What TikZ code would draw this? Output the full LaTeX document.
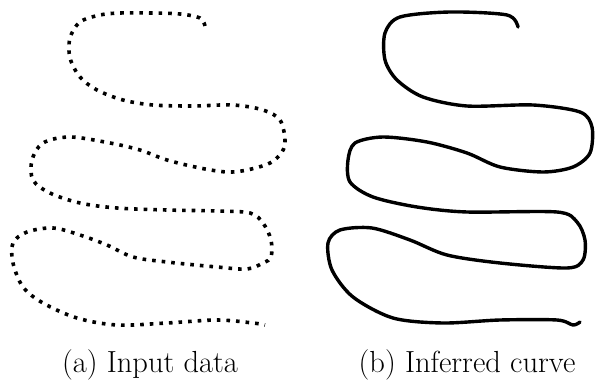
\documentclass[tikz,border=0pt]{standalone}
\usepackage{tikz}
\usetikzlibrary{calc}
\tikzset{
  dataDots/.style={
    line width=3.6pt,
    line cap=butt,
    dash pattern=on 3.6pt off 6pt
  },
  fitCurve/.style={
    line width=3.4pt,
    line cap=round,
    line join=round
  },
  panelCaption/.style={
    font=\fontsize{30.5}{36}\selectfont,
    anchor=base,
    inner sep=0pt
  }
}

\begin{document}
\begin{tikzpicture}[x=1pt,y=-1pt]
  \useasboundingbox (0,0) rectangle (595,380);

  % (a) sampled input points
  \draw[dataDots] plot[smooth, tension=0.55] coordinates {
    (205,26) (200,18) (180,14) (150,13) (120,13) (100,15) (80,22) (70,38)
    (70,58) (80,77) (97,90) (123,100) (153,105) (193,106) (233,105)
    (263,110) (280,120) (285,140) (282,152) (270,163) (247,170) (227,172)
    (200,168) (167,160) (140,150) (110,143) (70,137) (43,143) (32,160)
    (33,180) (50,193) (80,203) (117,208) (167,210) (217,211) (250,213)
    (263,223) (271,240) (271,257) (263,263) (247,269) (217,267) (167,262)
    (133,257) (107,245) (80,235) (53,228) (27,232) (13,243) (13,263)
    (23,287) (43,303) (77,318) (117,325) (167,323) (217,320) (253,323)
    (265,325)};

  % (b) reconstructed curve
  \draw[fitCurve] plot[smooth, tension=0.5] coordinates {
    (518,27) (507,15) (450,12) (400,17) (385,33) (385,60) (397,80)
    (423,97) (467,106) (533,105) (580,112) (592,127) (590,153) (573,167)
    (543,172) (500,167) (467,153) (427,142) (383,137) (355,143) (348,160)
    (350,182) (373,197) (417,207) (467,212) (557,212) (577,222) (585,240)
    (583,260) (567,268) (500,263) (447,255) (410,240) (372,228) (340,230)
    (328,243) (332,270) (353,297) (393,318) (443,323) (500,320) (557,320)
    (573,325) (580,322)};

  \node[panelCaption] (capA) at (150,372) {(a) Input data};
  \node[panelCaption] (capB) at (467,372) {(b) Inferred curve};
\end{tikzpicture}
\end{document}
